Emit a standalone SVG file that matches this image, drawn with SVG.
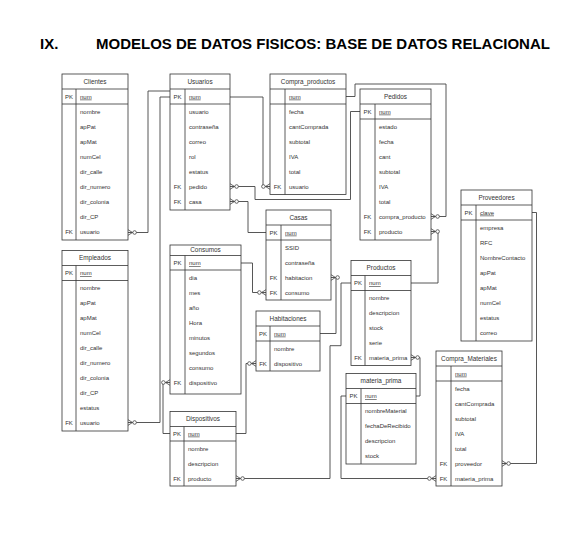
<svg xmlns="http://www.w3.org/2000/svg" width="587" height="543" viewBox="0 0 587 543">
<style>
.bg{fill:#ffffff}
.box{fill:#ffffff;stroke:#333333;stroke-width:0.8}
.sep{stroke:#333333;stroke-width:0.8;fill:none}
.t{font-family:"Liberation Sans",Arial,Helvetica,sans-serif;font-size:6px;fill:#333333}
.h{font-size:6.4px;text-anchor:middle}
.k{text-anchor:middle}
.u{text-decoration:underline}
.c{fill:none;stroke:#444444;stroke-width:0.9;marker-end:url(#zm)}
.title{font-family:"Liberation Sans",Arial,Helvetica,sans-serif;font-size:15px;font-weight:bold;fill:#000000}
</style>
<defs>
<marker id="zm" markerUnits="userSpaceOnUse" markerWidth="12" markerHeight="8" viewBox="-10 -4 12 8" refX="0" refY="0" orient="auto" overflow="visible">
<path d="M-4.5,0 L0,-2.8 M-4.5,0 L0,2.8" stroke="#444444" stroke-width="0.8" fill="none"/>
<circle cx="-6.6" cy="0" r="1.8" fill="#ffffff" stroke="#444444" stroke-width="0.8"/>
</marker>
</defs>
<rect class="bg" x="0" y="0" width="587" height="543"/>
<text class="title" y="49"><tspan x="40">IX.</tspan><tspan x="96">MODELOS DE DATOS FISICOS: BASE DE DATOS RELACIONAL</tspan></text>

<g id="connectors">
<path class="c" d="M170,91 H148 V232.5 H128"/>
<path class="c" d="M170,97 H160 V422.5 H128"/>
<path class="c" d="M230,97 H263 V186.5 H270"/>
<path class="c" d="M360,111.5 H350.5 V199.5 H255 V186.5 H230"/>
<path class="c" d="M266,232.5 H248 V201.5 H230"/>
<path class="c" d="M346,96.5 H355 V84 H446 V216.5 H431"/>
<path class="c" d="M411,283 H438 V231.5 H431"/>
<path class="c" d="M241,263 H252.5 V292.5 H266"/>
<path class="c" d="M320,333.5 H336 V277.5 H331"/>
<path class="c" d="M236,433.5 H246 V363.5 H256"/>
<path class="c" d="M170,433.5 H163 V382.5 H170"/>
<path class="c" d="M351,283 H341 V345.7 H330 V478.5 H236"/>
<path class="c" d="M416,396 H420 V357.5 H411"/>
<path class="c" d="M346,396 H341 V478.5 H436"/>
<path class="c" d="M532,212.5 H536.5 V463.5 H502"/>
</g>

<g id="clientes">
<rect class="box" x="62" y="74" width="66" height="166"/>
<path class="sep" d="M62,89 H128 M62,104 H128 M76,89 V240"/>
<text class="t h" x="95" y="83.8">Clientes</text>
<text class="t k" x="69" y="98.6">PK</text>
<text class="t u" x="80" y="98.6">num</text>
<text class="t" x="80" y="113.6">nombre</text>
<text class="t" x="80" y="128.6">apPat</text>
<text class="t" x="80" y="143.6">apMat</text>
<text class="t" x="80" y="158.6">numCel</text>
<text class="t" x="80" y="173.6">dir_calle</text>
<text class="t" x="80" y="188.6">dir_numero</text>
<text class="t" x="80" y="203.6">dir_colonia</text>
<text class="t" x="80" y="218.6">dir_CP</text>
<text class="t k" x="69" y="233.6">FK</text>
<text class="t" x="80" y="233.6">usuario</text>
</g>

<g id="usuarios">
<rect class="box" x="170" y="74" width="60" height="136"/>
<path class="sep" d="M170,89 H230 M170,104 H230 M185,89 V210"/>
<text class="t h" x="200" y="83.8">Usuarios</text>
<text class="t k" x="177.5" y="98.6">PK</text>
<text class="t u" x="189" y="98.6">num</text>
<text class="t" x="189" y="113.6">usuario</text>
<text class="t" x="189" y="128.6">contraseña</text>
<text class="t" x="189" y="143.6">correo</text>
<text class="t" x="189" y="158.6">rol</text>
<text class="t" x="189" y="173.6">estatus</text>
<text class="t k" x="177.5" y="188.6">FK</text>
<text class="t" x="189" y="188.6">pedido</text>
<text class="t k" x="177.5" y="203.6">FK</text>
<text class="t" x="189" y="203.6">casa</text>
</g>

<g id="compra_productos">
<rect class="box" x="270" y="74" width="76" height="120.5"/>
<path class="sep" d="M270,89 H346 M270,104 H346 M285,89 V194.5"/>
<text class="t h" x="308" y="83.8">Compra_productos</text>
<text class="t u" x="289" y="98.6">num</text>
<text class="t" x="289" y="113.6">fecha</text>
<text class="t" x="289" y="128.6">cantComprada</text>
<text class="t" x="289" y="143.6">subtotal</text>
<text class="t" x="289" y="158.6">IVA</text>
<text class="t" x="289" y="173.6">total</text>
<text class="t k" x="277.5" y="188.6">FK</text>
<text class="t" x="289" y="188.6">usuario</text>
</g>

<g id="pedidos">
<rect class="box" x="360" y="89" width="71" height="151"/>
<path class="sep" d="M360,104 H431 M360,119 H431 M375,104 V240"/>
<text class="t h" x="395.5" y="98.8">Pedidos</text>
<text class="t k" x="367.5" y="113.6">PK</text>
<text class="t u" x="379" y="113.6">num</text>
<text class="t" x="379" y="128.6">estado</text>
<text class="t" x="379" y="143.6">fecha</text>
<text class="t" x="379" y="158.6">cant</text>
<text class="t" x="379" y="173.6">subtotal</text>
<text class="t" x="379" y="188.6">IVA</text>
<text class="t" x="379" y="203.6">total</text>
<text class="t k" x="367.5" y="218.6">FK</text>
<text class="t" x="379" y="218.6">compra_producto</text>
<text class="t k" x="367.5" y="233.6">FK</text>
<text class="t" x="379" y="233.6">producto</text>
</g>

<g id="proveedores">
<rect class="box" x="461" y="190" width="71" height="151"/>
<path class="sep" d="M461,205 H532 M461,220 H532 M476,205 V341"/>
<text class="t h" x="496.5" y="199.8">Proveedores</text>
<text class="t k" x="468.5" y="214.6">PK</text>
<text class="t u" x="480" y="214.6">clave</text>
<text class="t" x="480" y="229.6">empresa</text>
<text class="t" x="480" y="244.6">RFC</text>
<text class="t" x="480" y="259.6">NombreContacto</text>
<text class="t" x="480" y="274.6">apPat</text>
<text class="t" x="480" y="289.6">apMat</text>
<text class="t" x="480" y="304.6">numCel</text>
<text class="t" x="480" y="319.6">estatus</text>
<text class="t" x="480" y="334.6">correo</text>
</g>

<g id="empleados">
<rect class="box" x="62" y="250.5" width="66" height="180.5"/>
<path class="sep" d="M62,265.5 H128 M62,280.5 H128 M76,265.5 V431"/>
<text class="t h" x="95" y="260.3">Empleados</text>
<text class="t k" x="69" y="275.1">PK</text>
<text class="t u" x="80" y="275.1">num</text>
<text class="t" x="80" y="290.1">nombre</text>
<text class="t" x="80" y="305.1">apPat</text>
<text class="t" x="80" y="320.1">apMat</text>
<text class="t" x="80" y="335.1">numCel</text>
<text class="t" x="80" y="350.1">dir_calle</text>
<text class="t" x="80" y="365.1">dir_numero</text>
<text class="t" x="80" y="380.1">dir_colonia</text>
<text class="t" x="80" y="395.1">dir_CP</text>
<text class="t" x="80" y="410.1">estatus</text>
<text class="t k" x="69" y="425.1">FK</text>
<text class="t" x="80" y="425.1">usuario</text>
</g>

<g id="consumos">
<rect class="box" x="170" y="245" width="71" height="149"/>
<path class="sep" d="M170,255.5 H241 M170,270 H241 M185,255.5 V394"/>
<text class="t h" x="205.5" y="252.4">Consumos</text>
<text class="t k" x="177.5" y="265">PK</text>
<text class="t u" x="189" y="265">num</text>
<text class="t" x="189" y="279.6">dia</text>
<text class="t" x="189" y="294.6">mes</text>
<text class="t" x="189" y="309.6">año</text>
<text class="t" x="189" y="324.6">Hora</text>
<text class="t" x="189" y="339.6">minutos</text>
<text class="t" x="189" y="354.6">segundos</text>
<text class="t" x="189" y="369.6">consumo</text>
<text class="t k" x="177.5" y="384.6">FK</text>
<text class="t" x="189" y="384.6">dispositivo</text>
</g>

<g id="casas">
<rect class="box" x="266" y="210" width="65" height="90"/>
<path class="sep" d="M266,225 H331 M266,240 H331 M281,225 V300"/>
<text class="t h" x="298.5" y="219.8">Casas</text>
<text class="t k" x="273.5" y="234.6">PK</text>
<text class="t u" x="285" y="234.6">num</text>
<text class="t" x="285" y="249.6">SSID</text>
<text class="t" x="285" y="264.6">contraseña</text>
<text class="t k" x="273.5" y="279.6">FK</text>
<text class="t" x="285" y="279.6">habitacion</text>
<text class="t k" x="273.5" y="294.6">FK</text>
<text class="t" x="285" y="294.6">consumo</text>
</g>

<g id="habitaciones">
<rect class="box" x="256" y="311" width="64" height="60"/>
<path class="sep" d="M256,326 H320 M256,341 H320 M270,326 V371"/>
<text class="t h" x="288" y="320.8">Habitaciones</text>
<text class="t k" x="263" y="335.6">PK</text>
<text class="t u" x="274" y="335.6">num</text>
<text class="t" x="274" y="350.6">nombre</text>
<text class="t k" x="263" y="365.6">FK</text>
<text class="t" x="274" y="365.6">dispositivo</text>
</g>

<g id="productos">
<rect class="box" x="351" y="260.5" width="60" height="105"/>
<path class="sep" d="M351,275.5 H411 M351,290.5 H411 M365,275.5 V365.5"/>
<text class="t h" x="381" y="270.3">Productos</text>
<text class="t k" x="358" y="285.1">PK</text>
<text class="t u" x="369" y="285.1">num</text>
<text class="t" x="369" y="300.1">nombre</text>
<text class="t" x="369" y="315.1">descripcion</text>
<text class="t" x="369" y="330.1">stock</text>
<text class="t" x="369" y="345.1">serie</text>
<text class="t k" x="358" y="360.1">FK</text>
<text class="t" x="369" y="360.1">materia_prima</text>
</g>

<g id="materia_prima">
<rect class="box" x="346" y="373.5" width="70" height="90.5"/>
<path class="sep" d="M346,388.5 H416 M346,403.5 H416 M361,388.5 V464"/>
<text class="t h" x="381" y="383.3">materia_prima</text>
<text class="t k" x="353.5" y="398.1">PK</text>
<text class="t u" x="365" y="398.1">num</text>
<text class="t" x="365" y="413.1">nombreMaterial</text>
<text class="t" x="365" y="428.1">fechaDeRecibido</text>
<text class="t" x="365" y="443.1">descripcion</text>
<text class="t" x="365" y="458.1">stock</text>
</g>

<g id="compra_materiales">
<rect class="box" x="436" y="351" width="66" height="135"/>
<path class="sep" d="M436,366 H502 M436,381 H502 M451,366 V486"/>
<text class="t h" x="469" y="360.8">Compra_Materiales</text>
<text class="t u" x="455" y="375.6">num</text>
<text class="t" x="455" y="390.6">fecha</text>
<text class="t" x="455" y="405.6">cantComprada</text>
<text class="t" x="455" y="420.6">subtotal</text>
<text class="t" x="455" y="435.6">IVA</text>
<text class="t" x="455" y="450.6">total</text>
<text class="t k" x="443.5" y="465.6">FK</text>
<text class="t" x="455" y="465.6">proveedor</text>
<text class="t k" x="443.5" y="480.6">FK</text>
<text class="t" x="455" y="480.6">materia_prima</text>
</g>

<g id="dispositivos">
<rect class="box" x="170" y="411.5" width="66" height="74.5"/>
<path class="sep" d="M170,426.5 H236 M170,441 H236 M184,426.5 V486"/>
<text class="t h" x="203" y="421.2">Dispositivos</text>
<text class="t k" x="177" y="435.6">PK</text>
<text class="t u" x="188" y="435.6">num</text>
<text class="t" x="188" y="450.6">nombre</text>
<text class="t" x="188" y="465.6">descripcion</text>
<text class="t k" x="177" y="480.6">FK</text>
<text class="t" x="188" y="480.6">producto</text>
</g>
</svg>
